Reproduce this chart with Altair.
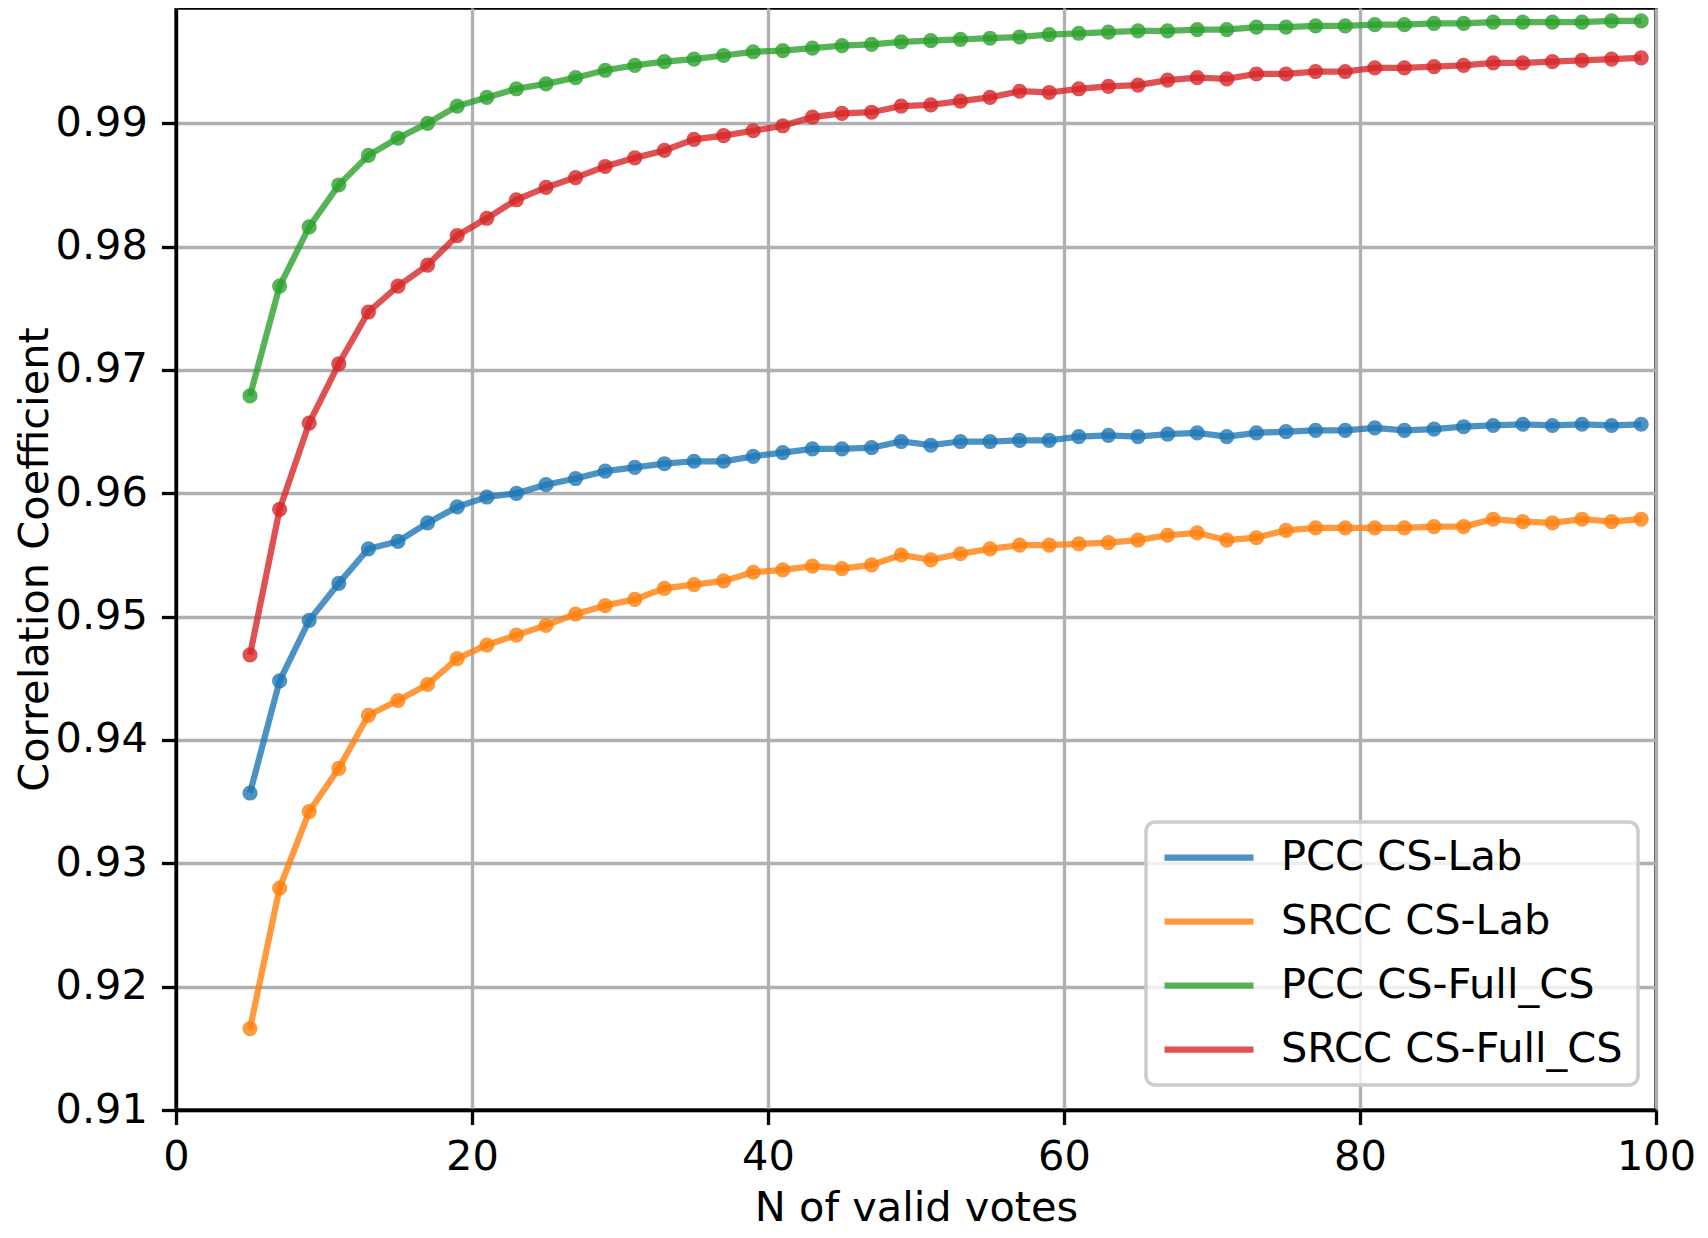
import altair as alt
import pandas as pd

votes = [5, 7, 9, 11, 13, 15, 17, 19, 21, 23, 25, 27, 29, 31, 33, 35, 37, 39, 41, 43,
         45, 47, 49, 51, 53, 55, 57, 59, 61, 63, 65, 67, 69, 71, 73, 75, 77, 79, 81, 83,
         85, 87, 89, 91, 93, 95, 97, 99]

pcc_lab = [0.9357, 0.9448, 0.9497, 0.9527, 0.9555, 0.9561, 0.9576, 0.9589, 0.9597, 0.9600,
           0.9607, 0.9612, 0.9618, 0.9621, 0.9624, 0.9626, 0.9626, 0.9630, 0.9633, 0.9636,
           0.9636, 0.9637, 0.9642, 0.9639, 0.9642, 0.9642, 0.9643, 0.9643, 0.9646, 0.9647,
           0.9646, 0.9648, 0.9649, 0.9646, 0.9649, 0.9650, 0.9651, 0.9651, 0.9653, 0.9651,
           0.9652, 0.9654, 0.9655, 0.9656, 0.9655, 0.9656, 0.9655, 0.9656]

srcc_lab = [0.9166, 0.9280, 0.9342, 0.9377, 0.9420, 0.9432, 0.9445, 0.9466, 0.9477, 0.9485,
            0.9493, 0.9502, 0.9509, 0.9514, 0.9523, 0.9526, 0.9529, 0.9536, 0.9538, 0.9541,
            0.9539, 0.9542, 0.9550, 0.9546, 0.9551, 0.9555, 0.9558, 0.9558, 0.9559, 0.9560,
            0.9562, 0.9566, 0.9568, 0.9562, 0.9564, 0.9570, 0.9572, 0.9572, 0.9572, 0.9572,
            0.9573, 0.9573, 0.9579, 0.9577, 0.9576, 0.9579, 0.9577, 0.9579]

pcc_full = [0.9679, 0.9768, 0.9816, 0.9850, 0.9874, 0.9888, 0.9900, 0.9914, 0.9921, 0.9928,
            0.9932, 0.9937, 0.9943, 0.9947, 0.9950, 0.9952, 0.9955, 0.9958, 0.9959, 0.9961,
            0.9963, 0.9964, 0.9966, 0.9967, 0.9968, 0.9969, 0.9970, 0.9972, 0.9973, 0.9974,
            0.9975, 0.9975, 0.9976, 0.9976, 0.9978, 0.9978, 0.9979, 0.9979, 0.9980, 0.9980,
            0.9981, 0.9981, 0.9982, 0.9982, 0.9982, 0.9982, 0.9983, 0.9983]

srcc_full = [0.9469, 0.9587, 0.9657, 0.9705, 0.9747, 0.9768, 0.9785, 0.9809, 0.9823, 0.9838,
             0.9848, 0.9856, 0.9865, 0.9872, 0.9878, 0.9887, 0.9890, 0.9894, 0.9898, 0.9905,
             0.9908, 0.9909, 0.9914, 0.9915, 0.9918, 0.9921, 0.9926, 0.9925, 0.9928, 0.9930,
             0.9931, 0.9935, 0.9937, 0.9936, 0.9940, 0.9940, 0.9942, 0.9942, 0.9945, 0.9945,
             0.9946, 0.9947, 0.9949, 0.9949, 0.9950, 0.9951, 0.9952, 0.9953]

series_names = ["PCC CS-Lab", "SRCC CS-Lab", "PCC CS-Full_CS", "SRCC CS-Full_CS"]
series_colors = ["#1f77b4", "#ff7f0e", "#2ca02c", "#d62728"]
series_values = [pcc_lab, srcc_lab, pcc_full, srcc_full]

y_ticks = [0.91, 0.92, 0.93, 0.94, 0.95, 0.96, 0.97, 0.98, 0.99]
x_ticks = [0, 20, 40, 60, 80, 100]

rows = []
for order, (name, vals) in enumerate(zip(series_names, series_values)):
    for n, v in zip(votes, vals):
        rows.append({"N": n, "value": v, "series": name, "order": order})
df = pd.DataFrame(rows)

FONT = "DejaVu Sans"
FS = 41.5
W, H = 1480, 1102

color_scale = alt.Scale(domain=series_names, range=series_colors)
x_enc = alt.X("N:Q", scale=alt.Scale(domain=[0, 100], nice=False),
              axis=alt.Axis(values=x_ticks, title="N of valid votes", labelAngle=0,
                            labelFlush=False, labelOverlap=False,
                            labelBaseline="alphabetic", labelPadding=45,
                            titleX=W / 2, titleY=110, titleAlign="center",
                            titleBaseline="alphabetic"))
y_enc = alt.Y("value:Q", scale=alt.Scale(domain=[0.91, 0.99935], nice=False, zero=False),
              axis=alt.Axis(values=y_ticks, format=".2f", title="Correlation Coefficient",
                            labelPadding=14, titleX=-129, titleY=H / 2, titleAngle=270,
                            titleAlign="center", titleBaseline="alphabetic"))

lines = alt.Chart(df).mark_line(strokeWidth=6.25, opacity=0.8).encode(
    x=x_enc, y=y_enc,
    color=alt.Color("series:N", scale=color_scale, sort=series_names,
                    legend=alt.Legend(orient="none", legendX=970, legendY=814, title=None,
                                      symbolType="stroke", symbolSize=7921,
                                      symbolStrokeWidth=6.25, symbolOpacity=0.8,
                                      labelFont=FONT, labelFontSize=FS, labelColor="black",
                                      labelOffset=24, labelLimit=0, padding=15,
                                      fillColor="rgba(255,255,255,0.8)",
                                      strokeColor="#cccccc", cornerRadius=9)),
    detail="series:N",
    order="N:Q",
)

points = alt.Chart(df).mark_circle(size=230, opacity=0.8).encode(
    x=x_enc, y=y_enc,
    color=alt.Color("series:N", scale=color_scale, legend=None),
)

chart = alt.layer(lines, points).resolve_legend(color="independent").properties(
    width=W, height=H,
    autosize=alt.AutoSizeParams(type="none"),
    padding={"left": 168, "top": 0, "right": 44, "bottom": 120},
).configure_view(
    stroke="black", strokeWidth=3.3
).configure_axis(
    labelFont=FONT, labelFontSize=FS, labelColor="black",
    titleFont=FONT, titleFontSize=FS, titleColor="black", titleFontWeight="normal",
    tickSize=14.6, tickWidth=3.3, tickColor="black",
    domainColor="black", domainWidth=3.3,
    gridColor="#b0b0b0", gridWidth=3.3, gridOpacity=1,
).configure_legend(
    strokeWidth=3.5, rowPadding=22, clipHeight=41
)

chart.save("out.html", embed_options={"renderer": "svg", "actions": False})
